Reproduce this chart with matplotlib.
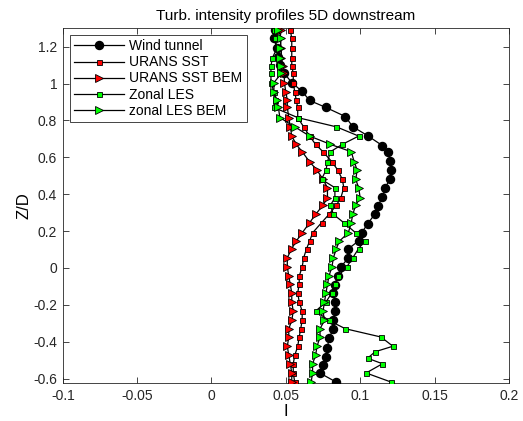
import matplotlib
matplotlib.use("Agg")
import matplotlib.pyplot as plt

plt.rcParams['font.family'] = ['Liberation Sans', 'DejaVu Sans']

# Common vertical positions (Z/D) for CFD profiles, top to bottom
z_cfd = [1.29, 1.245, 1.19, 1.14, 1.095, 1.055, 1.005, 0.955, 0.91, 0.87, 0.815,
         0.765, 0.715, 0.67, 0.63, 0.575, 0.53, 0.48, 0.435, 0.38, 0.34, 0.29,
         0.245, 0.19, 0.145, 0.105, 0.055, 0.005, -0.045, -0.09, -0.135, -0.185,
         -0.235, -0.285, -0.33, -0.375, -0.425, -0.475, -0.52, -0.57, -0.62]

# Wind tunnel
z_wt = [1.29, 1.245, 1.19, 1.145, 1.10, 1.055, 1.005, 0.957, 0.908, 0.87, 0.821,
        0.766, 0.717, 0.663, 0.63, 0.582, 0.533, 0.484, 0.435, 0.386, 0.337, 0.293,
        0.239, 0.19, 0.147, 0.103, 0.054, 0.005, -0.043, -0.092, -0.136, -0.185,
        -0.234, -0.283, -0.332, -0.38, -0.435, -0.484, -0.527, -0.571, -0.62]
i_wt = [0.043, 0.042, 0.044, 0.045, 0.046, 0.049, 0.054, 0.061, 0.066, 0.077, 0.090,
        0.095, 0.105, 0.115, 0.119, 0.120, 0.121, 0.120, 0.117, 0.115, 0.112, 0.110,
        0.105, 0.101, 0.099, 0.092, 0.092, 0.087, 0.085, 0.083, 0.082, 0.083,
        0.083, 0.082, 0.082, 0.079, 0.078, 0.077, 0.075, 0.073, 0.084]

# URANS SST
i_sst = [0.053, 0.054, 0.054, 0.054, 0.054, 0.055, 0.055, 0.056, 0.057, 0.058, 0.058,
         0.062, 0.066, 0.070, 0.075, 0.081, 0.085, 0.088, 0.089, 0.087, 0.084, 0.079,
         0.074, 0.068, 0.066, 0.064, 0.062, 0.061, 0.059, 0.059, 0.058, 0.059,
         0.061, 0.061, 0.060, 0.059, 0.058, 0.056, 0.055, 0.055, 0.056]

# URANS SST BEM
i_sst_bem = [0.047, 0.046, 0.047, 0.047, 0.048, 0.049, 0.049, 0.050, 0.051, 0.051, 0.052,
             0.053, 0.054, 0.057, 0.061, 0.066, 0.071, 0.075, 0.078, 0.078, 0.075, 0.070,
             0.066, 0.061, 0.057, 0.054, 0.051, 0.051, 0.052, 0.053, 0.054, 0.054,
             0.055, 0.054, 0.052, 0.052, 0.051, 0.052, 0.053, 0.054, 0.054]

# Zonal LES
z_les = [1.29, 1.245, 1.19, 1.14, 1.095, 1.055, 1.005, 0.955, 0.91, 0.87, 0.815,
         0.765, 0.715, 0.67, 0.63, 0.575, 0.53, 0.48, 0.435, 0.38, 0.34, 0.29,
         0.245, 0.19, 0.145, 0.105, 0.055, 0.005, -0.045, -0.09, -0.135, -0.185,
         -0.235, -0.285, -0.33, -0.375, -0.425, -0.455, -0.49, -0.52, -0.57, -0.62]
i_les = [0.042, 0.043, 0.044, 0.041, 0.040, 0.040, 0.040, 0.042, 0.043, 0.042, 0.058,
         0.084, 0.099, 0.088, 0.080, 0.078, 0.077, 0.074, 0.083, 0.083, 0.080, 0.082,
         0.089, 0.097, 0.103, 0.099, 0.095, 0.091, 0.085, 0.083, 0.081, 0.077,
         0.070, 0.079, 0.090, 0.114, 0.122, 0.110, 0.105, 0.115, 0.104, 0.121]

# zonal LES BEM
i_les_bem = [0.045, 0.047, 0.046, 0.046, 0.047, 0.047, 0.042, 0.042, 0.044, 0.045, 0.046,
             0.056, 0.066, 0.080, 0.094, 0.096, 0.098, 0.097, 0.099, 0.100, 0.097, 0.095,
             0.094, 0.092, 0.086, 0.084, 0.082, 0.081, 0.079, 0.078, 0.077, 0.076,
             0.075, 0.076, 0.073, 0.073, 0.071, 0.070, 0.068, 0.068, 0.067]

labels = ['Wind tunnel', 'URANS SST', 'URANS SST BEM', 'Zonal LES', 'zonal LES BEM']

fig = plt.figure(figsize=(5.23, 4.21), dpi=100)
ax = fig.add_axes([0.120, 0.090, 0.853, 0.843])

lw = 0.9
ax.plot(i_wt, z_wt, '-o', color='black', lw=lw, ms=5.8, mfc='black', mec='black',
        label=labels[0], zorder=3)
ax.plot(i_sst, z_cfd, '-s', color='black', lw=lw, ms=3.6, mfc='red', mec='black',
        mew=0.6, label=labels[1], zorder=4)
ax.plot(i_sst_bem, z_cfd, '->', color='black', lw=lw, ms=6.0, mfc='red', mec='black',
        mew=0.6, label=labels[2], zorder=4)
ax.plot(i_les, z_les, '-s', color='black', lw=lw, ms=3.6, mfc='#00ff00', mec='black',
        mew=0.6, label=labels[3], zorder=5)
ax.plot(i_les_bem, z_cfd, '->', color='black', lw=lw, ms=6.0, mfc='#00ff00', mec='black',
        mew=0.6, label=labels[4], zorder=5)

ax.set_xlim(-0.1, 0.2)
ax.set_ylim(-0.625, 1.3)
ax.set_xticks([-0.1, -0.05, 0, 0.05, 0.1, 0.15, 0.2])
ax.set_xticklabels(['-0.1', '-0.05', '0', '0.05', '0.1', '0.15', '0.2'])
ax.set_yticks([-0.6, -0.4, -0.2, 0, 0.2, 0.4, 0.6, 0.8, 1, 1.2])
ax.set_yticklabels(['-0.6', '-0.4', '-0.2', '0', '0.2', '0.4', '0.6', '0.8', '1', '1.2'])
ax.tick_params(direction='in', top=True, right=True, length=4, width=0.6,
               labelsize=10, colors='#262626', pad=4)
for s in ax.spines.values():
    s.set_color('#262626')
    s.set_linewidth(0.6)

ax.set_title('Turb. intensity profiles 5D downstream', fontsize=11, pad=6)
ax.set_xlabel('I', fontsize=12, labelpad=1)
ax.set_ylabel('Z/D', fontsize=12, labelpad=1)

leg = ax.legend(loc='upper left', fontsize=10, handlelength=3.6, handletextpad=0.4,
                borderaxespad=0.5, labelspacing=0.15, fancybox=False, framealpha=1,
                borderpad=0.3)
leg.get_frame().set_edgecolor('#262626')
leg.get_frame().set_linewidth(0.6)

fig.savefig('out.png', dpi=100)
